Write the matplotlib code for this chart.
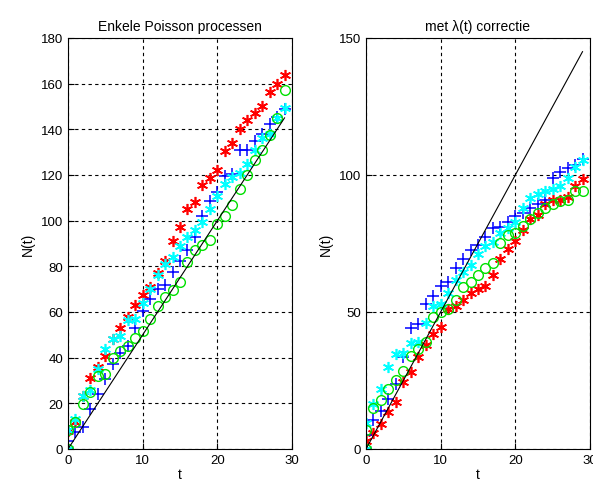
import matplotlib
matplotlib.use("Agg")
import matplotlib.pyplot as plt
import numpy as np

plt.rcParams['font.family'] = ['Liberation Sans', 'DejaVu Sans']
plt.rcParams['font.size'] = 9

t = np.arange(0, 30)
lam = 5.0

# linker paneel: enkele Poisson processen
red_l = [8, 12, 23, 31, 36, 40.7, 48, 53, 57.7, 63, 67.5, 71, 77, 82.5, 91, 97, 105, 108,
         115.5, 118.5, 122, 130.5, 134, 140, 144, 147, 150, 156.5, 160, 164]
blue_l = [3.6, 7.3, 9.5, 17.5, 24, 30.6, 37, 42, 45, 53, 60.5, 65.7, 70, 72, 77.4, 82.5, 87, 93,
          102, 108.5, 112.5, 119.7, 120.5, 131, 131, 135, 138, 142.5, 145.5, 149]
cyan_l = [8.5, 13, 23, 26, 35, 44, 48, 49.6, 56.6, 57, 64, 70, 76, 81, 84, 89, 93, 96, 99.6,
          105, 111, 116, 119, 121, 125, 131, 136, 138, 145, 149.5]
green_l = [8.5, 12, 19.7, 25, 32, 33, 40, 43, 45, 48.5, 51.5, 57, 62.5, 66.5, 69.5, 73, 82, 87,
           89.5, 91.5, 98.5, 102, 107, 114, 120, 126.5, 131, 137.5, 145, 157]

# rechter paneel: met lambda(t) correctie
red_r = [3, 6, 9, 13.5, 17, 24.5, 28, 33.5, 38, 42, 44.5, 51, 52, 54.5, 57, 58.5, 59.5, 63.5,
         69.5, 73, 76, 80, 84, 85.5, 89.5, 91, 91, 92, 96, 98.5]
blue_r = [5, 10.5, 14, 18.3, 23.8, 33.5, 44, 45.7, 53, 56, 59.5, 61, 66, 69.5, 72.6, 74.5, 77.5,
          80.5, 81, 83, 85, 86, 88, 89.5, 91, 99, 101, 102.5, 103.5, 106]
cyan_r = [9.5, 16.5, 22, 30, 34.5, 35, 38.5, 39, 46, 52, 53, 57, 61.5, 64.5, 67, 71, 74, 75.5,
          79, 80.5, 83, 88, 91.5, 93, 94, 95, 96, 99, 103, 105.5]
green_r = [7, 15, 18, 22, 25, 28.5, 34, 36.5, 39, 48, 50, 51, 54.5, 59, 61, 63.5, 66, 68, 75,
           78, 79, 81.5, 84, 86, 88, 89.5, 90.5, 91, 94, 94]

asterisk = (6, 2, 0)

fig = plt.figure(figsize=(5.93, 4.89), dpi=100)
ax1 = fig.add_axes([0.1147, 0.0798, 0.3777, 0.8405])
ax2 = fig.add_axes([0.6172, 0.0798, 0.3777, 0.8405])


def draw(ax, red, blue, cyan, green, ymax, yticks, title):
    tt = np.concatenate([[0], t])
    ax.plot(tt, [0] + red, linestyle='none', marker=asterisk, color='red', ms=8, mew=1.2)
    ax.plot(tt, [0] + blue, linestyle='none', marker='+', color='blue', ms=9, mew=1.1)
    ax.plot(tt, [0] + cyan, linestyle='none', marker=asterisk, color='cyan', ms=8, mew=1.2)
    ax.plot(tt, [0] + green, linestyle='none', marker='o', mfc='none', mec='#00e000', ms=7, mew=1.0)
    ax.plot(t, lam * t, color='black', lw=0.8)
    ax.set_xlim(0, 30)
    ax.set_ylim(0, ymax)
    ax.set_xticks([0, 10, 20, 30])
    ax.set_yticks(yticks)
    ax.grid(True, color='black', linestyle=(0, (3, 3)), linewidth=0.8)
    ax.tick_params(direction='in', length=4, labelsize=9.5)
    for s in ax.spines.values():
        s.set_linewidth(0.8)
    ax.set_xlabel('t', fontsize=10, labelpad=1)
    ax.set_ylabel('N(t)', fontsize=10, labelpad=4)
    ax.set_title(title, fontsize=10, pad=6)


draw(ax1, red_l, blue_l, cyan_l, green_l, 180, range(0, 181, 20), 'Enkele Poisson processen')
draw(ax2, red_r, blue_r, cyan_r, green_r, 150, [0, 50, 100, 150], 'met λ(t) correctie')

fig.savefig('out.png', dpi=100)
